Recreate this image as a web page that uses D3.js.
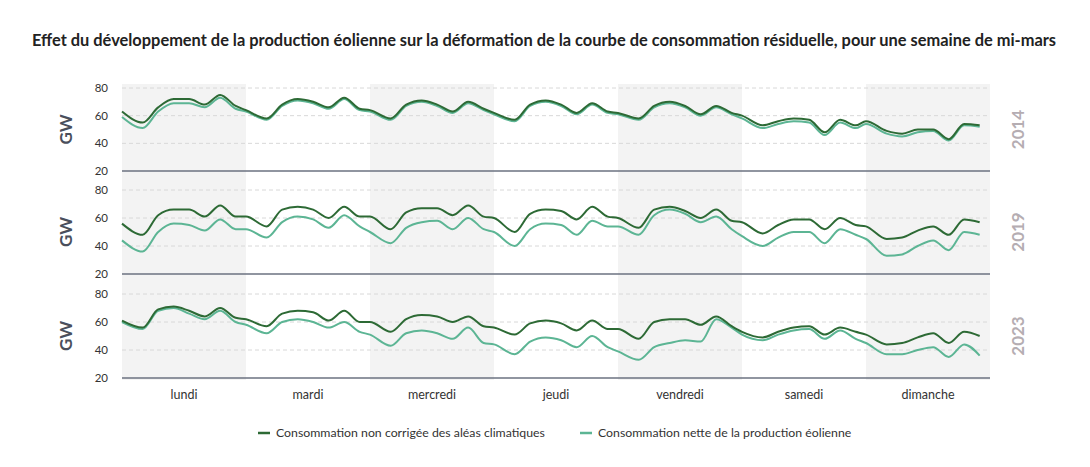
<!DOCTYPE html>
<html><head><meta charset="utf-8">
<script src="https://cdn.jsdelivr.net/npm/d3@7"></script>
<style>body{margin:0;background:#fff;font-family:Lato,"Open Sans",sans-serif}</style>
</head><body><svg id="c" width="1090" height="467"></svg>
<script>
const days = ['lundi','mardi','mercredi','jeudi','vendredi','samedi','dimanche'];
const hours = [0,4,7,10,13,16,19,22];
const years = ['2014','2019','2023'];
const yTicks = [20,40,60,80];

const conso2014 = [63,55,66,72,72,68,75,67, 64,58,68,72,70,66,73,65, 64,58,68,71,68,63,70,65, 62,57,68,71,68,62,69,63, 62,58,67,70,67,61,67,62, 60,53,56,58,57,48,57,53, 56,49,47,50,50,43,54,53];
const nette2014 = [59,51,63,69,69,66,73,65, 63,57,67,71,69,65,72,64, 63,57,67,70,67,62,69,64, 61,56,67,70,67,61,68,62, 61,57,66,69,66,60,66,61, 58,51,54,56,55,46,55,51, 54,47,45,48,49,42,53,52];
const conso2019 = [56,48,62,66,66,61,69,61, 61,54,66,68,66,60,68,61, 61,52,64,67,67,62,69,61, 60,50,63,66,65,59,68,61, 60,53,66,68,65,60,66,58, 57,49,55,59,59,52,60,55, 54,45,46,51,54,48,59,57];
const nette2019 = [44,36,50,56,55,51,59,52, 52,46,57,61,59,53,62,54, 50,42,53,57,58,52,60,52, 50,40,52,56,55,48,58,54, 54,48,62,66,63,57,61,52, 47,40,46,50,50,42,52,48, 45,33,34,40,44,37,50,48];
const conso2023 = [61,56,69,71,68,64,70,63, 62,57,66,68,67,61,68,60, 60,53,62,65,64,60,64,57, 56,51,59,61,59,54,61,55, 55,48,60,62,62,58,64,57, 53,49,53,56,57,51,56,53, 51,44,45,49,52,45,53,50];
const nette2023 = [60,55,68,70,66,62,68,60, 58,52,60,62,60,56,60,53, 51,43,52,54,52,48,56,45, 44,37,46,49,47,42,50,42, 39,33,42,45,47,46,62,56, 51,47,51,54,55,48,54,48, 45,37,37,40,42,35,44,36];
const seriesConso = [conso2014, conso2019, conso2023];
const seriesNette = [nette2014, nette2019, nette2023];

const svg = d3.select('#c');
const x = d3.scaleLinear().domain([0, 7*24]).range([122, 990]);
const panels = [[88,171],[190,274],[294,378]];
const dark = '#2d6a35', light = '#5cb594';

svg.append('text').attr('x', 544).attr('y', 46).attr('text-anchor','middle')
  .attr('font-size', 16.4).attr('font-weight', 700).attr('fill', '#222')
  .text('Effet du développement de la production éolienne sur la déformation de la courbe de consommation résiduelle, pour une semaine de mi-mars');

// day shading
days.forEach((d, i) => {
  if (i % 2 === 0) svg.append('rect').attr('x', x(i*24)).attr('y', 84)
    .attr('width', x(24) - x(0)).attr('height', 296).attr('fill', '#f3f3f3');
  svg.append('text').attr('x', x(i*24 + 12)).attr('y', 399).attr('text-anchor','middle')
    .attr('font-size', 12.5).attr('fill', '#333').text(d);
});

const pts = arr => arr.map((v, i) => [Math.floor(i/8)*24 + hours[i%8], v]);

panels.forEach(([top, bot], p) => {
  const y = d3.scaleLinear().domain([20, 80]).range([bot, top]);
  const g = svg.append('g');
  yTicks.forEach(t => {
    if (t > 20) g.append('line').attr('x1', 122).attr('x2', 990).attr('y1', y(t)).attr('y2', y(t))
      .attr('stroke', '#d8d8d8').attr('stroke-dasharray', '4,3');
    g.append('text').attr('x', 108).attr('y', y(t) + 4).attr('text-anchor','end')
      .attr('font-size', 11.5).attr('fill', '#333').text(t);
  });
  g.append('line').attr('x1', 122).attr('x2', 990).attr('y1', y(20)).attr('y2', y(20))
    .attr('stroke', '#6b7280').attr('stroke-width', 1.5);
  const line = d3.line().x(d => x(d[0])).y(d => y(d[1])).curve(d3.curveMonotoneX);
  g.append('path').attr('d', line(pts(seriesNette[p]))).attr('fill','none').attr('stroke', light).attr('stroke-width', 2);
  g.append('path').attr('d', line(pts(seriesConso[p]))).attr('fill','none').attr('stroke', dark).attr('stroke-width', 2);
  const mid = (top + bot) / 2;
  g.append('text').attr('transform', `translate(72,${mid}) rotate(-90)`).attr('text-anchor','middle')
    .attr('font-size', 17).attr('font-weight', 700).attr('fill', '#4a4f5c').text('GW');
  g.append('text').attr('transform', `translate(1024,${mid}) rotate(-90)`).attr('text-anchor','middle')
    .attr('font-size', 17).attr('font-weight', 700).attr('fill', '#b5adb2').text(years[p]);
});

// legend
const leg = [['Consommation non corrigée des aléas climatiques', dark, 258], ['Consommation nette de la production éolienne', light, 580]];
leg.forEach(([t, c, lx]) => {
  svg.append('line').attr('x1', lx).attr('x2', lx + 12).attr('y1', 433).attr('y2', 433).attr('stroke', c).attr('stroke-width', 2.5);
  svg.append('text').attr('x', lx + 18).attr('y', 437).attr('font-size', 12.3).attr('fill', '#333').text(t);
});
</script></body></html>
